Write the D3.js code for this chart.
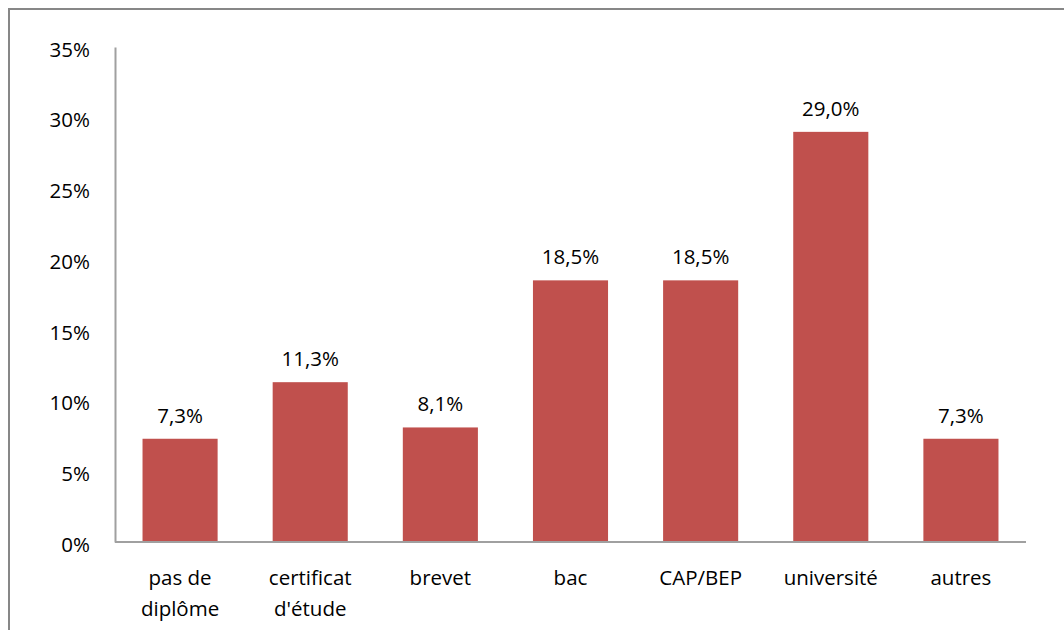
<!DOCTYPE html>
<html><head><meta charset="utf-8">
<script src="https://cdn.jsdelivr.net/npm/d3@7"></script>
<style>body{margin:0;background:#fff;}svg{display:block;}</style>
</head><body>
<script>
const categories = [["pas de","diplôme"],["certificat","d'étude"],["brevet"],["bac"],["CAP/BEP"],["université"],["autres"]];
const values = [7.3, 11.3, 8.1, 18.5, 18.5, 29.0, 7.3];
const yTicks = [0,5,10,15,20,25,30,35];

(function(){
const W = 1064, H = 630;
const svg = d3.select("body").append("svg").attr("width", W).attr("height", H);
const font = "'Open Sans', sans-serif";
const fs = 20.5;

svg.append("rect").attr("x", 9).attr("y", 9).attr("width", 1100).attr("height", 700)
  .attr("fill", "none").attr("stroke", "#878787").attr("stroke-width", 2);

const mL = 115, mR = 1026, mT = 47, mB = 542;
const x = d3.scaleBand().domain(d3.range(categories.length)).range([mL, mR]).paddingInner(0.423).paddingOuter(0.2115);
const y = d3.scaleLinear().domain([0, 35]).range([mB, mT]);

svg.selectAll("rect.bar").data(values).join("rect").attr("class","bar")
  .attr("x", (d,i) => x(i)).attr("y", d => y(d)).attr("width", x.bandwidth())
  .attr("height", d => y(0) - y(d)).attr("fill", "#C0504D");

const yAxis = d3.axisLeft(y).tickValues(yTicks).tickSize(0).tickPadding(25).tickFormat(d => d + "%");
const gy = svg.append("g").attr("transform", `translate(${mL},0)`).call(yAxis);
gy.select(".domain").attr("stroke", "#A0A0A0").attr("stroke-width", 2);
gy.selectAll("text").attr("font-family", font).attr("font-size", fs).attr("fill", "#000").attr("dy", "0.45em");

const xAxis = d3.axisBottom(x).tickSize(0).tickFormat("");
const gx = svg.append("g").attr("transform", `translate(0,${mB})`).call(xAxis);
gx.select(".domain").attr("stroke", "#A0A0A0").attr("stroke-width", 2).attr("d", `M${mL},0H${mR}`);

categories.forEach((lines, i) => {
  const cx = x(i) + x.bandwidth()/2;
  const t = svg.append("text").attr("x", cx).attr("y", 585)
    .attr("text-anchor", "middle").attr("font-family", font).attr("font-size", fs).attr("fill", "#000");
  lines.forEach((l, j) => t.append("tspan").attr("x", cx).attr("dy", j ? 31 : 0).text(l));
});

svg.selectAll("text.val").data(values).join("text").attr("class","val")
  .attr("x", (d,i) => x(i) + x.bandwidth()/2).attr("y", d => y(d) - 16)
  .attr("text-anchor", "middle").attr("font-family", font).attr("font-size", fs).attr("fill", "#000")
  .text(d => d.toFixed(1).replace(".", ",") + "%");
})();
</script>
</body></html>
